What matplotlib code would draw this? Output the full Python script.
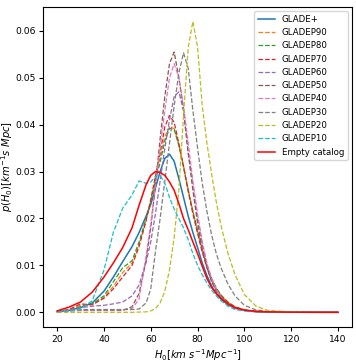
import matplotlib
matplotlib.use('Agg')
import matplotlib.pyplot as plt

# H0 grid [km s^-1 Mpc^-1]
h0 = [20, 25, 30, 35, 40, 44, 48, 52, 55, 58, 60, 62, 64, 66, 68, 70, 72, 74,
      76, 78, 80, 82, 84, 86, 88, 90, 93, 96, 100, 105, 110, 120, 130, 140]

# posteriors
glade_plus = [0.0001, 0.0004, 0.0010, 0.0020, 0.0045, 0.0075, 0.0108, 0.0140, 0.0170,
              0.0205, 0.0230, 0.0265, 0.0300, 0.0328, 0.0337, 0.0322, 0.0285, 0.0245,
              0.0205, 0.0170, 0.0138, 0.0105, 0.0078, 0.0056, 0.0040, 0.0028, 0.0016,
              0.0009, 0.0004, 0.00015, 0.00006, 0.00002, 0.00001, 0.0]
gladep90 = [0.0001, 0.0005, 0.0015, 0.0017, 0.0032, 0.0055, 0.0085, 0.0105, 0.0145,
            0.0198, 0.0238, 0.0285, 0.0330, 0.0375, 0.0395, 0.0392, 0.0358, 0.0312,
            0.0262, 0.0215, 0.0172, 0.0132, 0.0098, 0.0070, 0.0050, 0.0036, 0.0021,
            0.0011, 0.0005, 0.0002, 0.0001, 0.00003, 0.00001, 0.0]
gladep80 = [0.0001, 0.0004, 0.0012, 0.0018, 0.0035, 0.0065, 0.0095, 0.0110, 0.0150,
            0.0200, 0.0235, 0.0280, 0.0320, 0.0365, 0.0392, 0.0390, 0.0355, 0.0310,
            0.0260, 0.0215, 0.0175, 0.0135, 0.0100, 0.0072, 0.0052, 0.0037, 0.0022,
            0.0012, 0.0005, 0.0002, 0.0001, 0.00003, 0.00001, 0.0]
gladep70 = [0.0002, 0.0006, 0.0018, 0.0016, 0.0030, 0.0050, 0.0075, 0.0100, 0.0140,
            0.0195, 0.0240, 0.0290, 0.0340, 0.0395, 0.0420, 0.0405, 0.0360, 0.0310,
            0.0258, 0.0210, 0.0168, 0.0128, 0.0095, 0.0068, 0.0048, 0.0034, 0.0020,
            0.0011, 0.0005, 0.0002, 0.0001, 0.00003, 0.00001, 0.0]
gladep60 = [0.0001, 0.0005, 0.0010, 0.0013, 0.0015, 0.0018, 0.0022, 0.0035, 0.0058,
            0.0107, 0.0150, 0.0210, 0.0280, 0.0350, 0.0410, 0.0460, 0.0470, 0.0430,
            0.0340, 0.0270, 0.0200, 0.0145, 0.0100, 0.0070, 0.0048, 0.0033, 0.0018,
            0.0009, 0.0004, 0.00015, 0.00005, 0.00002, 0.00001, 0.0]
gladep50 = [0.0001, 0.0003, 0.0004, 0.0004, 0.0004, 0.0004, 0.0004, 0.0012, 0.0040,
            0.0110, 0.0180, 0.0270, 0.0370, 0.0460, 0.0530, 0.0555, 0.0500, 0.0430,
            0.0340, 0.0260, 0.0190, 0.0135, 0.0095, 0.0065, 0.0045, 0.0030, 0.0017,
            0.0009, 0.0004, 0.00015, 0.00005, 0.00002, 0.00001, 0.0]
gladep40 = [0.0001, 0.0003, 0.0005, 0.0005, 0.0005, 0.0005, 0.0005, 0.0008, 0.0028,
            0.0120, 0.0190, 0.0270, 0.0350, 0.0430, 0.0500, 0.0530, 0.0500, 0.0440,
            0.0360, 0.0280, 0.0210, 0.0150, 0.0105, 0.0072, 0.0048, 0.0032, 0.0017,
            0.0009, 0.0004, 0.00015, 0.00005, 0.00002, 0.00001, 0.0]
gladep30 = [0.0001, 0.0004, 0.0006, 0.0006, 0.0006, 0.0006, 0.0006, 0.0006, 0.0007,
            0.0020, 0.0050, 0.0130, 0.0200, 0.0280, 0.0360, 0.0440, 0.0510, 0.0553,
            0.0520, 0.0430, 0.0350, 0.0275, 0.0215, 0.0165, 0.0125, 0.0095, 0.0060,
            0.0035, 0.0015, 0.0005, 0.0002, 0.00005, 0.00001, 0.0]
gladep20 = [0.0, 0.0, 0.0, 0.0, 0.0, 0.0, 0.0, 0.0, 0.00005,
            0.0001, 0.0003, 0.0008, 0.0020, 0.0045, 0.0090, 0.0160, 0.0260, 0.0420,
            0.0565, 0.0620, 0.0565, 0.0440, 0.0360, 0.0295, 0.0235, 0.0185, 0.0125,
            0.0080, 0.0038, 0.0013, 0.0004, 0.0001, 0.00002, 0.0]
gladep10 = [0.0001, 0.0003, 0.0007, 0.0025, 0.0090, 0.0170, 0.0222, 0.0250, 0.0280,
            0.0275, 0.0278, 0.0290, 0.0292, 0.0275, 0.0245, 0.0220, 0.0200, 0.0180,
            0.0155, 0.0125, 0.0100, 0.0080, 0.0062, 0.0047, 0.0035, 0.0025, 0.0013,
            0.0006, 0.0003, 0.0001, 0.00005, 0.00002, 0.00001, 0.0]
empty_cat = [0.0003, 0.0011, 0.0022, 0.0043, 0.0075, 0.0105, 0.0138, 0.0180, 0.0228,
             0.0272, 0.0292, 0.0300, 0.0298, 0.0292, 0.0278, 0.0260, 0.0232, 0.0200,
             0.0176, 0.0150, 0.0125, 0.0098, 0.0072, 0.0053, 0.0040, 0.0030, 0.0018,
             0.0010, 0.0005, 0.0002, 0.0001, 0.00003, 0.00001, 0.0]

dashed = [('GLADEP90', gladep90), ('GLADEP80', gladep80), ('GLADEP70', gladep70),
          ('GLADEP60', gladep60), ('GLADEP50', gladep50), ('GLADEP40', gladep40),
          ('GLADEP30', gladep30), ('GLADEP20', gladep20), ('GLADEP10', gladep10)]

plt.rcParams['font.size'] = 7

fig = plt.figure(figsize=(3.56, 3.64), dpi=100)
ax = fig.add_axes([0.121, 0.102, 0.868, 0.879])

ax.plot(h0, glade_plus, color='C0', lw=1.1, label='GLADE+')
for i, (name, vals) in enumerate(dashed):
    ax.plot(h0, vals, '--', color='C%d' % (i + 1), lw=0.9, label=name)
ax.plot(h0, empty_cat, color='r', lw=1.1, label='Empty catalog')

ax.set_xticks([20, 40, 60, 80, 100, 120, 140])
ax.set_yticks([0.0, 0.01, 0.02, 0.03, 0.04, 0.05, 0.06])
ax.tick_params(labelsize=6.6, length=3, pad=2.5)
ax.set_xlabel(r'$H_0[km\ s^{-1}Mpc^{-1}]$', fontsize=7.2)
ax.set_ylabel(r'$p(H_0)[km^{-1}s\ Mpc]$', fontsize=7.2)
ax.xaxis.set_label_coords(0.5, -0.062)
ax.yaxis.set_label_coords(-0.092, 0.5)
ax.legend(loc='upper right', fontsize=6.2)

fig.savefig('out.png', dpi=100)
